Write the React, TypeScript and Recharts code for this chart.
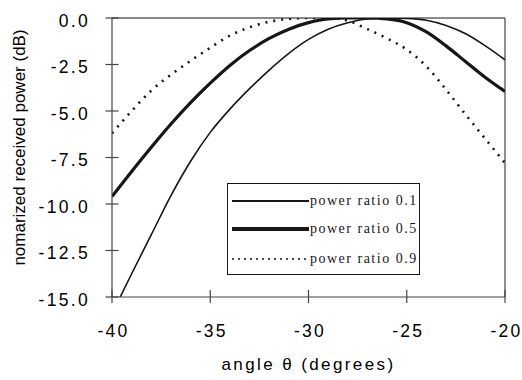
import React from "react";
import {
  LineChart,
  Line,
  XAxis,
  YAxis,
  Label,
  Legend,
  ReferenceLine,
} from "recharts";

// angle theta (degrees)
const angles = [
  -40, -39, -38, -37, -36, -35, -34, -33, -32, -31, -30, -29, -28, -27, -26,
  -25, -24, -23, -22, -21, -20,
];

// normalized received power (dB)
const ratio01 = [
  -15.9, -13.75, -11.65, -9.55, -7.7, -6.15, -4.9, -3.8, -2.8, -1.9, -1.15,
  -0.6, -0.25, -0.05, 0, -0.02, -0.12, -0.4, -0.85, -1.5, -2.25,
];
const ratio05 = [
  -9.6, -8.25, -6.95, -5.7, -4.55, -3.5, -2.55, -1.75, -1.1, -0.6, -0.25,
  -0.05, 0, 0, -0.05, -0.25, -0.75, -1.5, -2.35, -3.2, -3.95,
];
const ratio09 = [
  -6.2, -5.0, -3.9, -3.05, -2.3, -1.6, -0.95, -0.5, -0.2, -0.05, 0, 0, -0.15,
  -0.6, -1.1, -1.7, -2.6, -3.85, -5.2, -6.5, -7.8,
];

const xTicks = [-40, -35, -30, -25, -20];
const yTicks = [-15, -12.5, -10, -7.5, -5, -2.5, 0];

const series = [
  { key: "r01", name: "power ratio 0.1", width: 1.6, dash: undefined },
  { key: "r05", name: "power ratio 0.5", width: 3.2, dash: undefined },
  { key: "r09", name: "power ratio 0.9", width: 2.6, dash: "2 6" },
];

const data = angles.map((a, i) => ({
  angle: a,
  r01: ratio01[i],
  r05: ratio05[i],
  r09: ratio09[i],
}));

const INK = "#161616";
const AXIS = "#444";
const SANS = "'Liberation Sans', Arial, sans-serif";
const SERIF = "'Liberation Serif', 'Times New Roman', serif";
const Y_MARGIN = 22;
const X_MARGIN = 24;

function YTick(props: any) {
  const { x, y, payload } = props;
  const ax = x + Y_MARGIN;
  return (
    <g>
      <line x1={ax - 6.5} x2={ax + 6.5} y1={y} y2={y} stroke={AXIS} strokeWidth={1.2} />
      <text
        x={x}
        y={y}
        dy={8.8}
        textAnchor="end"
        fontFamily={SANS}
        fontSize={17.5}
        letterSpacing={2.3}
        fill="#000"
      >
        {Number(payload.value).toFixed(1)}
      </text>
    </g>
  );
}

function XTick(props: any) {
  const { x, y, payload } = props;
  const ay = y - X_MARGIN;
  return (
    <g>
      <line x1={x} x2={x} y1={ay - 7} y2={ay + 6} stroke={AXIS} strokeWidth={1.2} />
      <text
        x={x + 1.5}
        y={ay + 39.5}
        textAnchor="middle"
        fontFamily={SANS}
        fontSize={17.5}
        letterSpacing={2.3}
        fill="#000"
      >
        {payload.value}
      </text>
    </g>
  );
}

function YLabel({ viewBox }: any) {
  const cx = viewBox.x + 19;
  const cy = viewBox.y + viewBox.height / 2 - 10;
  return (
    <text
      x={cx}
      y={cy}
      transform={`rotate(-90, ${cx}, ${cy})`}
      textAnchor="middle"
      dominantBaseline="central"
      fontFamily={SANS}
      fontSize={17}
      fill="#000"
    >
      nomarized received power (dB)
    </text>
  );
}

function LegendBox() {
  return (
    <div
      style={{
        position: "relative",
        width: 193,
        height: 92,
        boxSizing: "border-box",
        border: `1.5px solid ${INK}`,
        background: "#fff",
      }}
    >
      {series.map((s, i) => (
        <div
          key={s.key}
          style={{
            position: "absolute",
            left: 4,
            top: [7, 35, 65][i],
            height: 20,
            display: "flex",
            alignItems: "center",
          }}
        >
          <svg width={77} height={20}>
            <line
              x1={0}
              x2={77}
              y1={10}
              y2={10}
              stroke={INK}
              strokeWidth={s.dash ? 1.4 : s.width + 0.6}
              strokeDasharray={s.dash ? "2 4" : undefined}
            />
          </svg>
          <span
            style={{
              fontFamily: SERIF,
              fontSize: 14,
              letterSpacing: 1.5,
              color: INK,
              marginLeft: 1,
              whiteSpace: "nowrap",
            }}
          >
            {s.name}
          </span>
        </div>
      ))}
    </div>
  );
}

export default function App() {
  return (
    <div style={{ position: "absolute", left: 0, top: 0, background: "#fff" }}>
      <LineChart
        width={522}
        height={380}
        data={data}
        margin={{ top: 18, right: 17, left: 0, bottom: 0 }}
      >
        <XAxis
          dataKey="angle"
          type="number"
          domain={[-40, -20]}
          ticks={xTicks}
          allowDataOverflow
          height={83}
          tickSize={0}
          tickMargin={X_MARGIN}
          tickLine={false}
          tick={<XTick />}
          axisLine={{ stroke: AXIS, strokeWidth: 1.2 }}
        >
          <Label
            value="angle θ (degrees)"
            position="insideBottom"
            offset={10}
            style={{
              fontFamily: SANS,
              fontSize: 17,
              letterSpacing: 2.4,
              fill: "#000",
            }}
          />
        </XAxis>
        <YAxis
          type="number"
          domain={[-15, 0]}
          ticks={yTicks}
          allowDataOverflow
          width={112}
          tickSize={0}
          tickMargin={Y_MARGIN}
          tickLine={false}
          tick={<YTick />}
          axisLine={{ stroke: AXIS, strokeWidth: 1.2 }}
        >
          <Label content={<YLabel />} />
        </YAxis>
        <ReferenceLine y={0} stroke={INK} strokeWidth={1.2} />
        <ReferenceLine x={-20} stroke={AXIS} strokeWidth={1.2} />
        {series.map((s) => (
          <Line
            key={s.key}
            dataKey={s.key}
            name={s.name}
            type="monotone"
            stroke={INK}
            strokeWidth={s.width}
            strokeDasharray={s.dash}
            dot={false}
            activeDot={false}
            isAnimationActive={false}
          />
        ))}
        <Legend
          layout="horizontal"
          verticalAlign="middle"
          align="center"
          content={<LegendBox />}
          wrapperStyle={{ left: 227, top: 183, width: 193, height: 92 }}
        />
      </LineChart>
    </div>
  );
}
